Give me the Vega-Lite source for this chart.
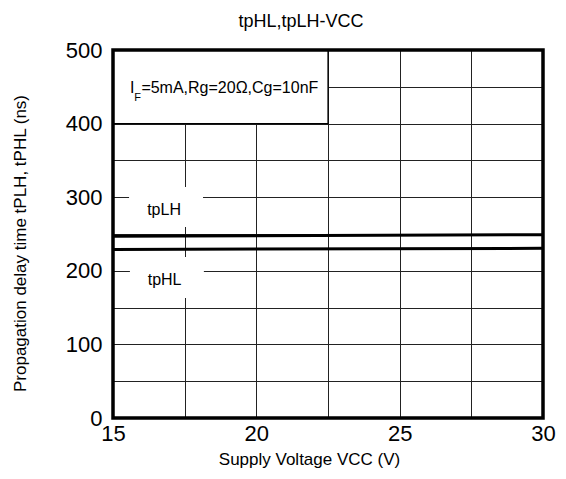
{
  "$schema": "https://vega.github.io/schema/vega-lite/v6.json",
  "width": 430,
  "height": 368,
  "autosize": {"type": "none"},
  "padding": {"left": 113, "top": 50, "right": 23, "bottom": 61},
  "background": "white",
  "config": {
    "font": "Liberation Sans",
    "view": {"stroke": null},
    "axis": {"labelFont": "Liberation Sans", "titleFont": "Liberation Sans"}
  },
  "title": {
    "text": "tpHL,tpLH-VCC",
    "font": "Liberation Sans",
    "fontSize": 18,
    "fontWeight": "normal",
    "color": "black",
    "frame": "group",
    "anchor": "middle",
    "baseline": "bottom",
    "dx": -27,
    "dy": 20,
    "offset": 10
  },
  "datasets": {
    "lines": [
      {"series": "tpLH", "x": 15, "y": 247},
      {"series": "tpLH", "x": 30, "y": 249},
      {"series": "tpHL", "x": 15, "y": 229},
      {"series": "tpHL", "x": 30, "y": 230.5}
    ],
    "labelBoxes": [
      {"name": "tpLH", "x": 15.56, "x2": 18.14, "y": 259.5, "y2": 314},
      {"name": "tpHL", "x": 15.59, "x2": 18.17, "y": 163, "y2": 218.8}
    ],
    "condBox": [
      {"x": 15, "x2": 22.5, "y": 400, "y2": 500}
    ],
    "frame": [
      {"x": 15, "x2": 30, "y": 0, "y2": 500}
    ],
    "seriesLabels": [
      {"label": "tpLH", "x": 16.78, "y": 282.6},
      {"label": "tpHL", "x": 16.8, "y": 187.5}
    ],
    "condMain": [
      {"text": "I", "x": 15.59, "y": 448},
      {"text": "=5mA,Rg=20Ω,Cg=10nF", "x": 15.99, "y": 448}
    ],
    "condSub": [
      {"text": "F", "x": 15.74, "y": 443.5}
    ]
  },
  "encoding": {
    "x": {
      "field": "x",
      "type": "quantitative",
      "scale": {"domain": [15, 30], "nice": false, "zero": false},
      "axis": {
        "values": [15, 17.5, 20, 22.5, 25, 27.5, 30],
        "labelExpr": "datum.value % 5 === 0 ? datum.label : ''",
        "grid": true,
        "gridColor": "#222222",
        "gridWidth": 1,
        "gridOpacity": 1,
        "domain": false,
        "ticks": false,
        "labelFontSize": 22,
        "labelColor": "black",
        "labelPadding": 5,
        "labelFlush": false,
        "title": "Supply Voltage VCC (V)",
        "titleFontSize": 17,
        "titleFontWeight": "normal",
        "titleColor": "black",
        "titleX": 196,
        "titlePadding": 7
      }
    },
    "y": {
      "field": "y",
      "type": "quantitative",
      "scale": {"domain": [0, 500], "nice": false},
      "axis": {
        "values": [0, 50, 100, 150, 200, 250, 300, 350, 400, 450, 500],
        "labelExpr": "datum.value % 100 === 0 ? datum.label : ''",
        "grid": true,
        "gridColor": "#222222",
        "gridWidth": 1,
        "gridOpacity": 1,
        "domain": false,
        "ticks": false,
        "labelFontSize": 22,
        "labelColor": "black",
        "labelPadding": 11,
        "labelFlush": false,
        "title": "Propagation delay time  tPLH, tPHL   (ns)",
        "titleFontSize": 17,
        "titleFontWeight": "normal",
        "titleColor": "black",
        "titleX": -84,
        "titleY": 193
      }
    }
  },
  "layer": [
    {
      "data": {"name": "labelBoxes"},
      "mark": {"type": "rect", "fill": "white", "stroke": null},
      "encoding": {"x2": {"field": "x2"}, "y2": {"field": "y2"}}
    },
    {
      "data": {"name": "condBox"},
      "mark": {"type": "rect", "fill": "white", "stroke": "black", "strokeWidth": 1.2},
      "encoding": {"x2": {"field": "x2"}, "y2": {"field": "y2"}}
    },
    {
      "data": {"name": "lines"},
      "mark": {"type": "line", "color": "black", "strokeWidth": 3},
      "encoding": {"detail": {"field": "series"}}
    },
    {
      "data": {"name": "seriesLabels"},
      "mark": {"type": "text", "fontSize": 16, "color": "black", "align": "center", "baseline": "middle"},
      "encoding": {"text": {"field": "label"}}
    },
    {
      "data": {"name": "condMain"},
      "mark": {"type": "text", "fontSize": 16, "color": "black", "align": "left", "baseline": "middle"},
      "encoding": {"text": {"field": "text"}}
    },
    {
      "data": {"name": "condSub"},
      "mark": {"type": "text", "fontSize": 11, "color": "black", "align": "left", "baseline": "top"},
      "encoding": {"text": {"field": "text"}}
    },
    {
      "data": {"name": "frame"},
      "mark": {"type": "rect", "fill": null, "stroke": "black", "strokeWidth": 3.5},
      "encoding": {"x2": {"field": "x2"}, "y2": {"field": "y2"}}
    }
  ]
}
